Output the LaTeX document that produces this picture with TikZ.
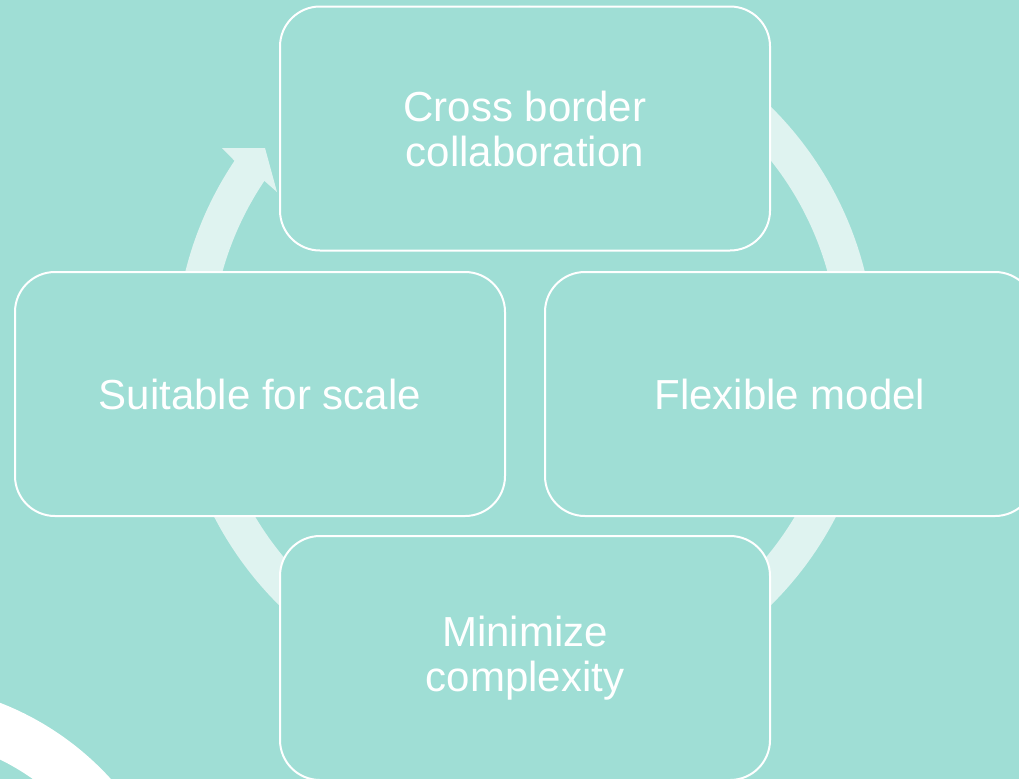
\documentclass[tikz,border=0pt]{standalone}
\usepackage{fontspec}
\setmainfont{Liberation Sans}
\usetikzlibrary{calc}
\definecolor{bgc}{HTML}{9FDED5}
\definecolor{ringc}{HTML}{DFF3F0}
\tikzset{
  cyclebox/.style={draw=white, line width=1.5pt, fill=bgc, rounded corners=30pt,
    minimum width=367.5pt, minimum height=183pt, inner sep=0pt,
    text=white, align=center, font=\fontsize{31.5pt}{33.75pt}\selectfont},
}
\begin{document}
\begin{tikzpicture}[x=0.75pt,y=0.75pt]
\useasboundingbox (0,0) rectangle (1019,-779);
\clip (0,0) rectangle (1019,-779);
\fill[bgc] (0,0) rectangle (1019,-779);
% decorative white ring bottom-left
\draw[white, line width=39pt] (-106,-976) circle[radius=267];
% cycle ring with arrowhead
\coordinate (C) at (525,-356);
\fill[ringc] ($(C)+(120:350)$) arc[start angle=120, end angle=-213.9, radius=350]
  -- (222,-148) -- (265,-148) -- (277,-192)
  -- ($(C)+(146.1:314)$) arc[start angle=-213.9, end angle=120, radius=314] -- cycle;
% boxes
\node[cyclebox] (top) at (525,-128.5) {Cross border\\collaboration};
\node[cyclebox] (left) at (260,-394) {Suitable for scale};
\node[cyclebox] (right) at (790,-394) {Flexible model};
\node[cyclebox] (bottom) at (525,-658) {Minimize\\complexity};
\end{tikzpicture}
\end{document}
